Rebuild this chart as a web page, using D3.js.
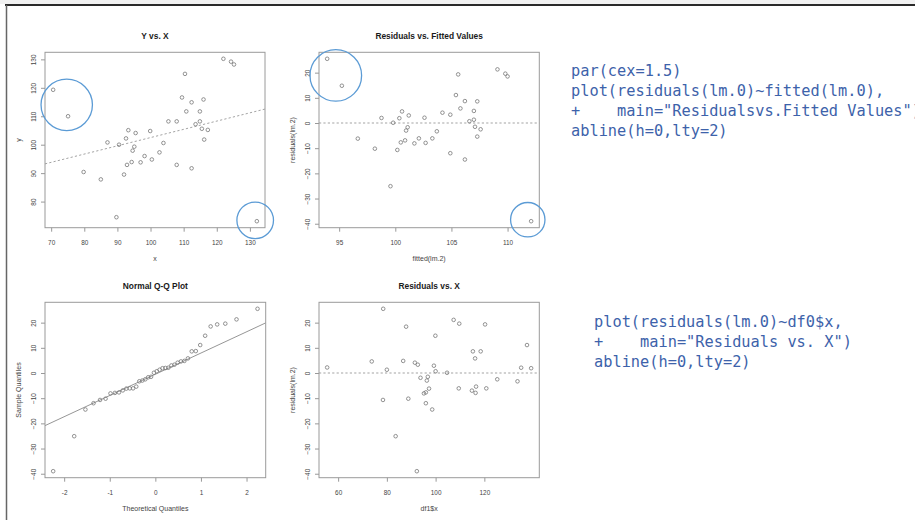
<!DOCTYPE html>
<html>
<head>
<meta charset="utf-8">
<script src="https://cdn.jsdelivr.net/npm/d3@7"></script>
<style>
  body { margin: 0; background: #fff; }
  svg { display: block; }
</style>
</head>
<body>
<script>
// Panel 1: Y vs. X
var xVals = [70.6, 75.1, 79.8, 85.0, 87.0, 89.7, 90.5, 92.0, 92.6, 92.9, 93.3, 94.3, 94.6, 95.1, 95.5, 97.0, 98.2, 99.9, 100.4, 102.7,
             103.9, 105.4, 107.9, 107.9, 109.5, 110.4, 110.8, 112.4, 112.4, 113.6, 114.9, 114.9, 115.5, 116.0, 116.2, 117.3, 122.0, 124.3, 125.2, 132.1];
var yVals = [119.3, 110.0, 90.4, 87.8, 100.8, 74.5, 100.0, 89.5, 102.2, 92.9, 105.1, 93.9, 97.9, 99.3, 104.1, 93.8, 96.0, 104.8, 94.8, 97.3,
             100.6, 108.2, 108.2, 92.9, 116.6, 124.9, 111.7, 114.9, 91.7, 107.2, 111.7, 108.2, 105.6, 115.9, 101.8, 105.2, 130.2, 129.2, 128.2, 73.1];
var fitIntercept = 73.5, fitSlope = 0.29;

// Panel 2: residuals vs fitted
var fittedVals = [93.93, 95.24, 96.66, 98.18, 98.77, 99.57, 99.81, 100.18, 100.36, 100.49, 100.6, 100.87, 100.96, 101.1, 101.2, 101.7, 102.1, 102.6, 102.7, 103.3,
                  103.7, 104.2, 104.9, 104.9, 105.4, 105.6, 105.8, 106.2, 106.2, 106.6, 107.0, 107.0, 107.1, 107.3, 107.3, 107.6, 109.1, 109.8, 110.0, 112.1];
var residVals = [25.5, 14.8, -6.2, -10.2, 2.0, -25.1, 0.1, -10.7, 1.9, -7.7, 4.6, -6.9, -3.0, -1.7, 3.0, -8.1, -6.1, 2.1, -7.9, -6.1,
                 -3.3, 4.1, 3.3, -12.0, 11.1, 19.3, 5.8, 8.7, -14.5, 0.7, 4.8, 1.3, -1.5, 8.6, -5.4, -2.5, 21.3, 19.6, 18.5, -39.0];

// Panel 3: normal Q-Q
var theoQuant = [-2.241, -1.780, -1.534, -1.356, -1.213, -1.092, -0.984, -0.887, -0.798, -0.714, -0.636, -0.561, -0.489, -0.419, -0.352, -0.286, -0.221, -0.157, -0.094, -0.031,
                 0.031, 0.094, 0.157, 0.221, 0.286, 0.352, 0.419, 0.489, 0.561, 0.636, 0.714, 0.798, 0.887, 0.984, 1.092, 1.213, 1.356, 1.534, 1.780, 2.241];
var sampleQuant = [-39.0, -25.1, -14.5, -12.0, -10.7, -10.2, -8.1, -7.9, -7.7, -6.9, -6.2, -6.1, -6.1, -5.4, -3.3, -3.0, -2.5, -1.7, -1.5, 0.1,
                   0.7, 1.3, 1.9, 2.0, 2.1, 3.0, 3.3, 4.1, 4.6, 4.8, 5.8, 8.6, 8.7, 11.1, 14.8, 18.5, 19.3, 19.6, 21.3, 25.5];
var qqIntercept = -0.5, qqSlope = 8.43;

// Panel 4: residuals vs df1$x
var df1X = [55.5, 73.8, 78.5, 78.4, 80.0, 83.6, 87.9, 88.8, 86.7, 91.5, 92.7, 93.8, 95.2, 96.0, 96.0, 96.4, 96.8, 97.3, 98.6, 99.3,
            99.9, 100.0, 104.7, 107.4, 109.5, 109.7, 114.9, 115.3, 116.2, 116.4, 116.6, 118.5, 120.3, 120.8, 125.3, 133.6, 135.1, 137.5, 139.2, 92.3];
var df1Resid = [2.2, 4.6, 25.5, -10.7, 1.3, -25.1, 18.4, -10.2, 4.8, 4.1, 3.3, -1.9, -8.1, -7.7, -12.0, -3.0, -1.5, -6.2, -14.5, 2.9,
                14.8, 0.7, 0.1, 21.1, -6.1, 19.6, -7.0, 8.6, 5.8, -7.9, -5.4, 8.6, 19.3, -6.1, -2.5, -3.3, 2.1, 11.1, 1.9, -39.0];

// tick labels
var xTicks1 = [70, 80, 90, 100, 110, 120, 130];
var yTicks1 = [80, 90, 100, 110, 120, 130];
var xTicks2 = [95, 100, 105, 110];
var residTicks = [-40, -30, -20, -10, 0, 10, 20];
var xTicks3 = [-2, -1, 0, 1, 2];
var xTicks4 = [60, 80, 100, 120];

// highlighted outliers: [x, y, radius px]
var marks1 = [[74.7, 114.0, 25.7], [131.6, 73.4, 18.3]];
var marks2 = [[94.7, 18.9, 25.8], [111.8, -38.4, 17.2]];

// R code on the slide
var code1 = ["par(cex=1.5)",
             "plot(residuals(lm.0)~fitted(lm.0),",
             "+    main=\"Residualsvs.Fitted Values\")",
             "abline(h=0,lty=2)"];
var code2 = ["plot(residuals(lm.0)~df0$x,",
             "+    main=\"Residuals vs. X\")",
             "abline(h=0,lty=2)"];

var W = 915, H = 520;
var svg = d3.select("body").append("svg")
    .attr("width", W)
    .attr("height", H);

// slide frame
svg.append("rect").attr("x", 0).attr("y", 0).attr("width", W).attr("height", 4).attr("fill", "#f1f1f1");
svg.append("line").attr("x1", 5).attr("x2", W).attr("y1", 5).attr("y2", 5)
    .attr("stroke", "#2a2a2a").attr("stroke-width", 2);
svg.append("line").attr("x1", 6.5).attr("x2", 6.5).attr("y1", 5).attr("y2", H)
    .attr("stroke", "#666").attr("stroke-width", 1.5);

function pad(ext) {
  var d = (ext[1] - ext[0]) * 0.04;
  return [ext[0] - d, ext[1] + d];
}

function panel(o) {
  var g = svg.append("g");
  var x = d3.scaleLinear().domain(pad(d3.extent(o.xs))).range([o.left, o.right]);
  var y = d3.scaleLinear().domain(pad(d3.extent(o.ys))).range([o.bottom, o.top]);

  g.append("text")
      .attr("x", (o.left + o.right) / 2)
      .attr("y", o.top - 13)
      .attr("text-anchor", "middle")
      .attr("font-family", "Liberation Sans, Arial, sans-serif")
      .attr("font-size", 8.4)
      .attr("font-weight", "bold")
      .attr("fill", "#1a1a1a")
      .text(o.title);

  var xa = g.append("g")
      .attr("transform", "translate(0," + o.bottom + ")")
      .call(d3.axisBottom(x).tickValues(o.xTicks).tickSize(4).tickFormat(d3.format("d")));
  var ya = g.append("g")
      .attr("transform", "translate(" + o.left + ",0)")
      .call(d3.axisLeft(y).tickValues(o.yTicks).tickSize(4).tickFormat(d3.format("d")));
  [xa, ya].forEach(function(a) {
    a.select(".domain").remove();
    a.selectAll(".tick line").attr("stroke", "#999");
    a.selectAll(".tick text")
        .attr("font-family", "Liberation Sans, Arial, sans-serif")
        .attr("font-size", 6.4)
        .attr("fill", "#444");
  });
  xa.selectAll(".tick text").attr("y", 12.5).attr("dy", "0.71em").text(function(d) { return String(d).replace("-", "-"); });
  ya.selectAll(".tick text")
      .attr("x", 0).attr("y", -9.5).attr("dy", 0)
      .attr("text-anchor", "middle")
      .attr("transform", "rotate(-90)");

  g.append("text")
      .attr("x", (o.left + o.right) / 2)
      .attr("y", o.bottom + 33)
      .attr("text-anchor", "middle")
      .attr("font-family", "Liberation Sans, Arial, sans-serif")
      .attr("font-size", 7)
      .attr("fill", "#444")
      .text(o.xLabel);
  g.append("text")
      .attr("transform", "translate(" + (o.left - 24.5) + "," + ((o.top + o.bottom) / 2) + ") rotate(-90)")
      .attr("text-anchor", "middle")
      .attr("font-family", "Liberation Sans, Arial, sans-serif")
      .attr("font-size", 7)
      .attr("fill", "#444")
      .text(o.yLabel);

  // reference line
  if (o.line) {
    var xd = x.domain();
    g.append("line")
        .attr("x1", x(xd[0])).attr("y1", y(o.line[0] + o.line[1] * xd[0]))
        .attr("x2", x(xd[1])).attr("y2", y(o.line[0] + o.line[1] * xd[1]))
        .attr("stroke", o.dashed ? "#999" : "#8a8a8a")
        .attr("stroke-width", 0.9)
        .attr("stroke-dasharray", o.dashed ? "2.2,2.2" : null);
  }

  g.selectAll("circle.pt")
      .data(d3.range(o.xs.length))
    .enter().append("circle")
      .attr("class", "pt")
      .attr("cx", function(i) { return x(o.xs[i]); })
      .attr("cy", function(i) { return y(o.ys[i]); })
      .attr("r", 1.8)
      .attr("fill", "none")
      .attr("stroke", "#777")
      .attr("stroke-width", 0.8);

  g.append("rect")
      .attr("x", o.left).attr("y", o.top)
      .attr("width", o.right - o.left).attr("height", o.bottom - o.top)
      .attr("fill", "none")
      .attr("stroke", "#9a9a9a")
      .attr("stroke-width", 1);

  if (o.marks) {
    g.selectAll("circle.mark")
        .data(o.marks)
      .enter().append("circle")
        .attr("class", "mark")
        .attr("cx", function(d) { return x(d[0]); })
        .attr("cy", function(d) { return y(d[1]); })
        .attr("r", function(d) { return d[2]; })
        .attr("fill", "none")
        .attr("stroke", "#5b9bd5")
        .attr("stroke-width", 1.3);
  }
}

panel({ left: 45, right: 265, top: 52.3, bottom: 227.7, xs: xVals, ys: yVals,
        xTicks: xTicks1, yTicks: yTicks1, title: "Y vs. X", xLabel: "x", yLabel: "y",
        line: [fitIntercept, fitSlope], dashed: true, marks: marks1 });
panel({ left: 319, right: 539.3, top: 52.3, bottom: 227.7, xs: fittedVals, ys: residVals,
        xTicks: xTicks2, yTicks: residTicks, title: "Residuals vs. Fitted Values",
        xLabel: "fitted(lm.2)", yLabel: "residuals(lm.2)", line: [0, 0], dashed: true, marks: marks2 });
panel({ left: 45, right: 265.7, top: 302.3, bottom: 477.7, xs: theoQuant, ys: sampleQuant,
        xTicks: xTicks3, yTicks: residTicks, title: "Normal Q-Q Plot",
        xLabel: "Theoretical Quantiles", yLabel: "Sample Quantiles", line: [qqIntercept, qqSlope], dashed: false });
panel({ left: 319, right: 539.3, top: 302.3, bottom: 477.7, xs: df1X, ys: df1Resid,
        xTicks: xTicks4, yTicks: residTicks, title: "Residuals vs. X",
        xLabel: "df1$x", yLabel: "residuals(lm.2)", line: [0, 0], dashed: true });

// code blocks
function codeBlock(lines, x0, y0) {
  svg.append("g").selectAll("text")
      .data(lines)
    .enter().append("text")
      .attr("x", x0)
      .attr("y", function(d, i) { return y0 + i * 20; })
      .attr("font-family", "DejaVu Sans Mono, monospace")
      .attr("font-size", 15.3)
      .attr("fill", "#3d62aa")
      .attr("xml:space", "preserve")
      .style("white-space", "pre")
      .text(function(d) { return d; });
}
codeBlock(code1, 571, 76.4);
codeBlock(code2, 594, 327);
</script>
</body>
</html>
